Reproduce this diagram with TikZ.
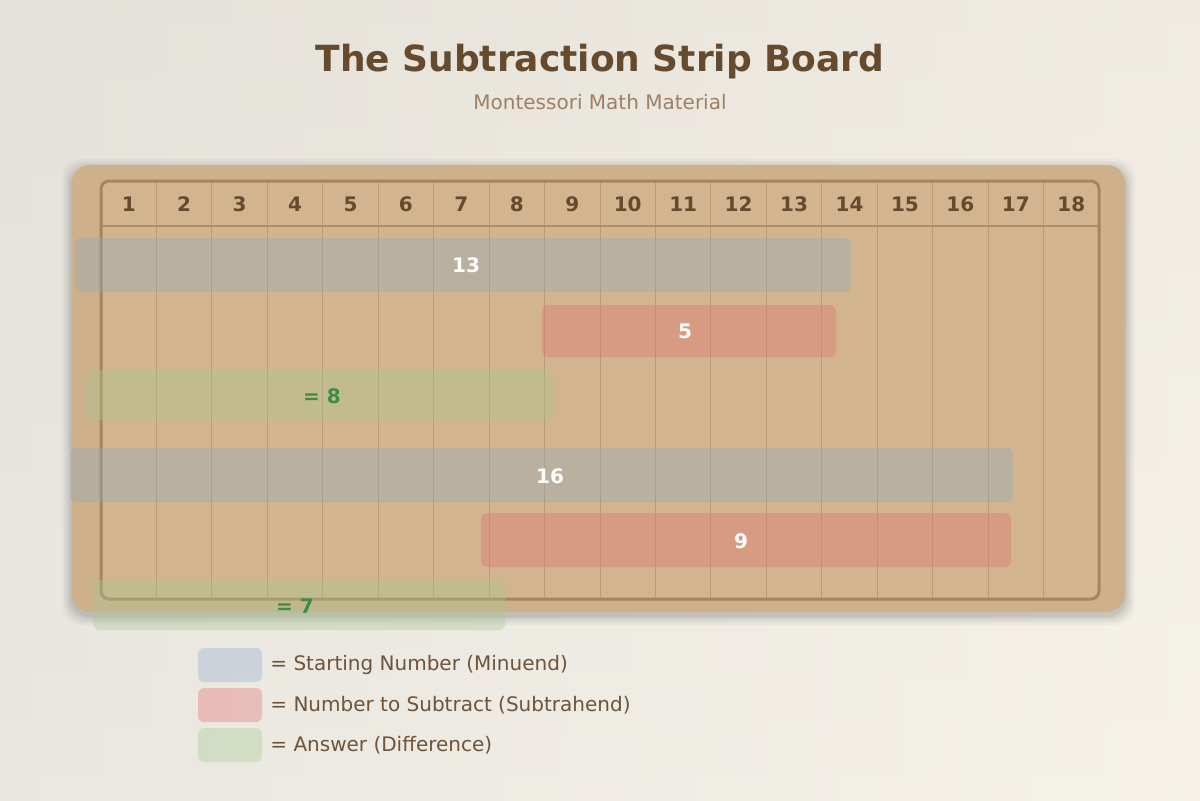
\documentclass[tikz,border=0pt]{standalone}
\usepackage{fontspec}
\setmainfont{DejaVu Sans}
\begin{document}
\begin{tikzpicture}[x=0.5pt,y=-0.5pt,
  title/.style={font=\fontsize{18}{21}\selectfont\bfseries, text=titlebrown, inner sep=0},
  subtitle/.style={font=\fontsize{10}{12}\selectfont, text=subbrown, inner sep=0},
  colnum/.style={font=\fontsize{10}{12}\selectfont\bfseries, text=titlebrown, inner sep=0},
  striplabel/.style={font=\fontsize{10}{12}\selectfont\bfseries, text=white, inner sep=0},
  anslabel/.style={font=\fontsize{10}{12}\selectfont\bfseries, text=ansgreen, inner sep=0},
  legendtext/.style={font=\fontsize{10}{12}\selectfont, text=legbrown, inner sep=0, anchor=west},
  bluestrip/.style={fill=stripblue, fill opacity=0.32, rounded corners=3pt},
  redstrip/.style={fill=stripred, fill opacity=0.36, rounded corners=3pt},
  greenstrip/.style={fill=stripgreen, fill opacity=0.36, rounded corners=3pt},
  gridline/.style={draw=gridc, line width=0.45pt},
]
\definecolor{titlebrown}{RGB}{101,74,46}
\definecolor{subbrown}{RGB}{158,128,98}
\definecolor{legbrown}{RGB}{110,84,58}
\definecolor{ansgreen}{RGB}{62,138,70}
\definecolor{stripblue}{RGB}{136,168,200}
\definecolor{stripred}{RGB}{224,112,112}
\definecolor{stripgreen}{RGB}{168,200,144}
\definecolor{boardtan}{RGB}{210,180,142}
\definecolor{boardouter}{RGB}{206,176,138}
\definecolor{borderc}{RGB}{165,133,96}
\definecolor{gridc}{RGB}{184,156,120}
\definecolor{headc}{RGB}{176,140,100}
\definecolor{bgtop}{RGB}{228,225,218}
\definecolor{bgbottom}{RGB}{243,241,236}
\definecolor{bgright}{RGB}{248,243,232}

% background
\useasboundingbox (0,0) rectangle (1200,800);
\shade[top color=bgtop, bottom color=bgbottom] (0,0) rectangle (1200,800);
\shade[left color=bgtop, right color=bgright, opacity=0.6] (0,0) rectangle (1200,800);

% board shadow
\foreach \d/\o in {10/0.025,8/0.03,6/0.035,4/0.045,2/0.055}{
  \fill[black, opacity=\o, rounded corners=10pt] (72-\d,165-\d+4) rectangle (1125+\d,612+\d+3);
}
% board
\fill[boardouter, rounded corners=9pt] (72,165) rectangle (1125,612);
\fill[boardtan, rounded corners=4pt] (101,181) rectangle (1099,599);

% grid
\foreach \i in {1,...,17}{
  \draw[gridline] ({101+\i*55.4444},181) -- ({101+\i*55.4444},599);
}
\draw[draw=headc, line width=0.8pt] (101,226) -- (1099,226);
\draw[draw=borderc, line width=1.5pt, rounded corners=4pt] (101,181) rectangle (1099,599);

% column numbers
\foreach \i in {1,...,18}{
  \node[colnum] (c\i) at ({101+(\i-0.5)*55.4444},204) {\i};
}

% strips
\fill[bluestrip] (75,238) rectangle (851,292);
\node[striplabel] (s13) at (466,265) {13};
\fill[redstrip] (542,305) rectangle (836,357);
\node[striplabel] (s5) at (685,331) {5};
\fill[greenstrip] (85,370) rectangle (553,420);
\node[anslabel] (a8) at (322,396) {= 8};
\fill[bluestrip] (70,448) rectangle (1013,502);
\node[striplabel] (s16) at (550,476) {16};
\fill[redstrip] (481,513) rectangle (1011,567);
\node[striplabel] (s9) at (741,541) {9};
\fill[greenstrip] (93,580) rectangle (505,630);
\node[anslabel] (a7) at (295,606) {= 7};

% title
\node[title] (t) at (600,62) {The Subtraction Strip Board};
\node[subtitle] (st) at (600,102) {Montessori Math Material};

% legend
\fill[bluestrip] (198,648) rectangle (262,682);
\node[legendtext] (l1) at (270,665) {= Starting Number (Minuend)};
\fill[redstrip] (198,688) rectangle (262,722);
\node[legendtext] (l2) at (270,705) {= Number to Subtract (Subtrahend)};
\fill[greenstrip] (198,728) rectangle (262,762);
\node[legendtext] (l3) at (270,745) {= Answer (Difference)};
\end{tikzpicture}
\end{document}
